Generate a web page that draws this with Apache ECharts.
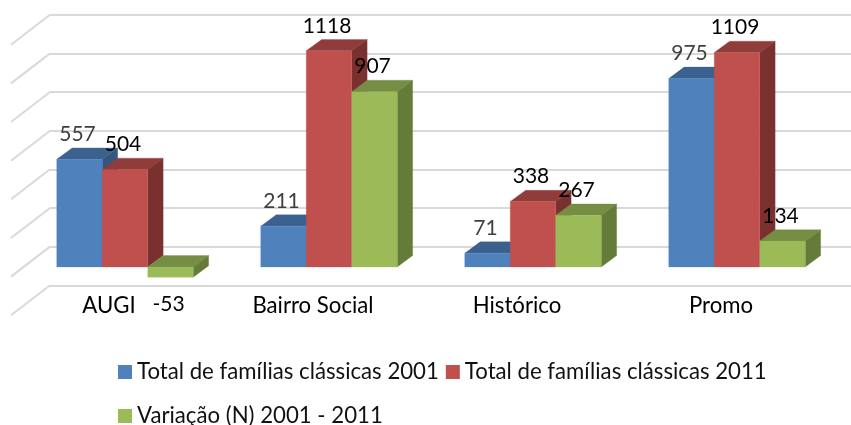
<!DOCTYPE html>
<html><head><meta charset="utf-8">
<style>html,body{margin:0;padding:0;background:#fff}#c{width:851px;height:425px}</style>
<script src="https://cdn.jsdelivr.net/npm/echarts@6/dist/echarts.min.js"></script>
</head><body><div id="c"></div>
<script>
const categories = ['AUGI', 'Bairro Social', 'Histórico', 'Promo'];
const seriesNames = ['Total de famílias clássicas 2001', 'Total de famílias clássicas 2011', 'Variação (N) 2001 - 2011'];
const familias2001 = [557, 211, 71, 975];
const familias2011 = [504, 1118, 338, 1109];
const variacao = [-53, 907, 267, 134];
const valueTicks = [-200, 0, 200, 400, 600, 800, 1000, 1200];

const FONT = 'Lato, "Open Sans", sans-serif';
const VALUE_SIZE = 21, AXIS_SIZE = 22.2, LEGEND_SIZE = 22.2;
// 3D projection constants (px)
const FRONT_DX = -27, FRONT_DY = 20.3;
const BAR_W = 45.5, DEPTH_DX = 15.4, DEPTH_DY = -11.4;
const WALL_DX = -39, WALL_DY = 30;

const palette = [
  {front:'#4F81BD', top:'#3B618F', side:'#34567F', label:'#404040'},
  {front:'#C0504D', top:'#903C3A', side:'#7A302E', label:'#000000'},
  {front:'#9BBB59', top:'#758E43', side:'#657B39', label:'#000000'}
];

function barSeries(name, values, si) {
  const col = palette[si];
  return {
    name, type: 'custom',
    data: values.map((v, i) => [i, v]),
    encode: {x: 0, y: 1},
    itemStyle: {color: col.front},
    clip: false,
    renderItem(params, api) {
      const i = api.value(0), v = api.value(1);
      const pv = api.coord([i, v]), p0 = api.coord([i, 0]);
      const x0 = pv[0] + FRONT_DX + (si - 1.5) * BAR_W;
      const x1 = x0 + BAR_W;
      const yv = pv[1] + FRONT_DY, yz = p0[1] + FRONT_DY;
      const yTop = Math.min(yv, yz), yBot = Math.max(yv, yz);
      const d = DEPTH_DX, e = DEPTH_DY;
      const poly = (points, fill) => ({type: 'polygon', shape: {points},
        style: {fill, stroke: fill, lineWidth: 0.3}});
      const labelY = v < 0 ? yBot + 27.5 : yTop - 25;
      return {type: 'group', children: [
        poly([[x0, yTop], [x0 + d, yTop + e], [x1 + d, yTop + e], [x1, yTop]], col.top),
        poly([[x1, yTop], [x1 + d, yTop + e], [x1 + d, yBot + e], [x1, yBot]], col.side),
        poly([[x0, yTop], [x1, yTop], [x1, yBot], [x0, yBot]], col.front),
        {type: 'text', z2: 100, style: {
          text: String(v), x: (x0 + x1) / 2 - 2, y: labelY,
          fill: col.label, font: VALUE_SIZE + 'px ' + FONT,
          textAlign: 'center', textVerticalAlign: 'middle'}}
      ]};
    }
  };
}

const wallSeries = {
  type: 'custom', silent: true, clip: false, z: 1,
  data: valueTicks.map(t => [0, t]),
  encode: {x: 0, y: 1},
  renderItem(params, api) {
    const p = api.coord([0, api.value(1)]);
    const x = p[0] - api.size([1, 0])[0] / 2;
    return {type: 'line', shape: {x1: x, y1: p[1], x2: x + WALL_DX, y2: p[1] + WALL_DY},
      style: {stroke: '#D9D9D9', lineWidth: 2}};
  }
};

const legendBase = {
  icon: 'rect', itemWidth: 14, itemHeight: 14, itemGap: 7, padding: 0,
  textStyle: {fontFamily: FONT, fontSize: LEGEND_SIZE, color: '#111'},
  selectedMode: false, orient: 'horizontal'
};

const chart = echarts.init(document.getElementById('c'), null, {renderer: 'canvas'});
chart.setOption({
  animation: false,
  backgroundColor: '#fff',
  grid: {left: 50, width: 816, top: 14.7, height: 270.6, outerBoundsMode: 'none'},
  legend: [
    Object.assign({}, legendBase, {data: seriesNames.slice(0, 2), left: 118, top: 361}),
    Object.assign({}, legendBase, {data: seriesNames.slice(2), left: 118, top: 405})
  ],
  xAxis: {
    type: 'category', data: categories, boundaryGap: true,
    axisLine: {show: false, onZero: false}, axisTick: {show: false},
    axisLabel: {fontFamily: FONT, fontSize: AXIS_SIZE, color: '#000', margin: 10,
      padding: [0, 86, 0, 0], interval: 0}
  },
  yAxis: {
    type: 'value', min: -200, max: 1200, interval: 200,
    axisLine: {show: false}, axisTick: {show: false}, axisLabel: {show: false},
    splitLine: {show: true, lineStyle: {color: '#D9D9D9', width: 2}}
  },
  series: [wallSeries,
    barSeries(seriesNames[0], familias2001, 0),
    barSeries(seriesNames[1], familias2011, 1),
    barSeries(seriesNames[2], variacao, 2)]
});
</script></body></html>
